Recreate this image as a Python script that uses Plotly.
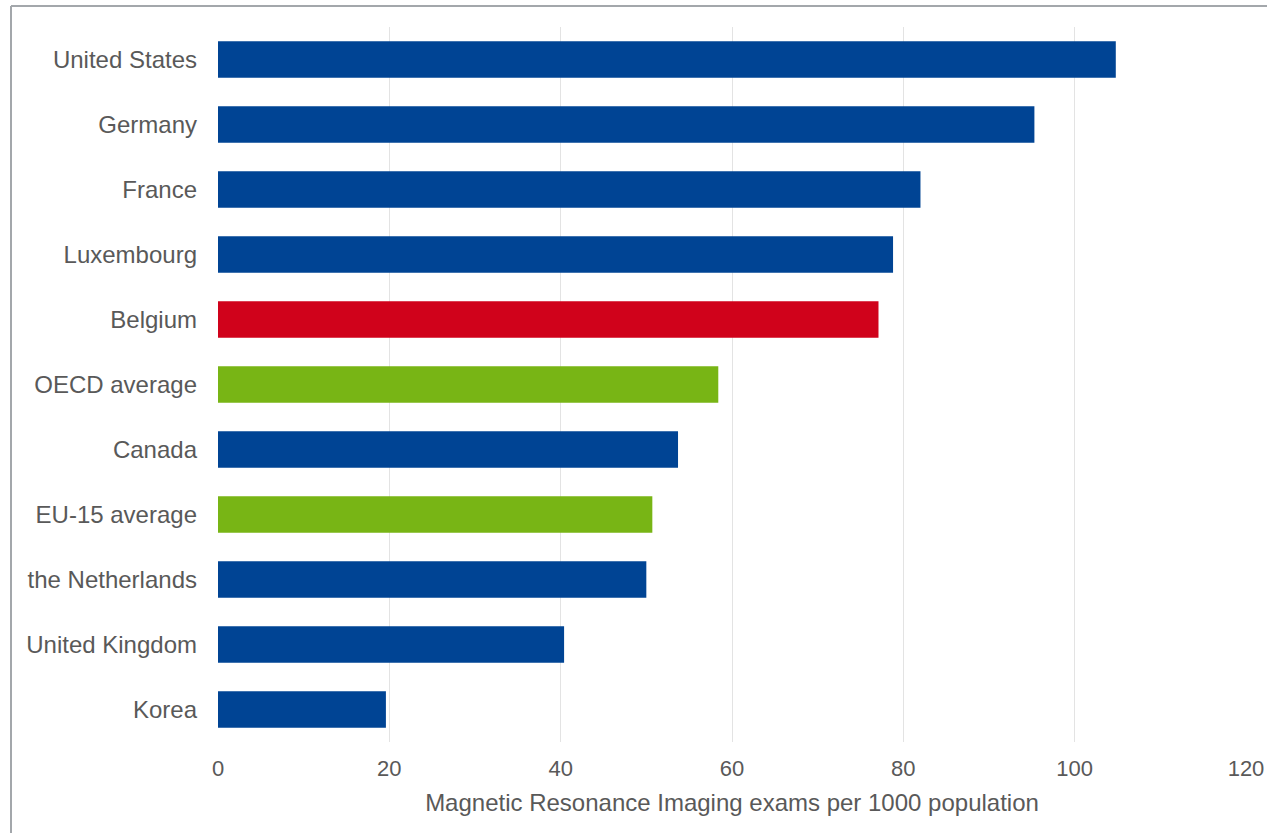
import plotly.graph_objects as go

countries = ["United States", "Germany", "France", "Luxembourg", "Belgium", "OECD average",
             "Canada", "EU-15 average", "the Netherlands", "United Kingdom", "Korea"]
values = [104.8, 95.3, 82.0, 78.8, 77.1, 58.4, 53.7, 50.7, 50.0, 40.4, 19.6]
groups = ["country", "country", "country", "country", "highlight", "average",
          "country", "average", "country", "country", "country"]
group_colors = {"country": "#004494", "highlight": "#d0021b", "average": "#78b515"}
x_ticks = [0, 20, 40, 60, 80, 100, 120]
x_title = "Magnetic Resonance Imaging exams per 1000 population"

fig = go.Figure(go.Bar(
    x=values, y=countries, orientation="h",
    marker=dict(color=[group_colors[g] for g in groups], line=dict(width=0)),
    hoverinfo="x+y",
))

W, H = 1267, 833
L, R, T, B = 218, 21, 27, 91
pw, ph = W - L - R, H - T - B

fig.update_layout(
    width=W, height=H,
    margin=dict(l=L, r=R, t=T, b=B, autoexpand=False),
    paper_bgcolor="white", plot_bgcolor="white",
    bargap=0.44,
    showlegend=False,
    font=dict(family="Liberation Sans, Arial, sans-serif", size=22, color="#595959"),
    xaxis=dict(
        range=[0, 120], tickvals=x_ticks, showgrid=True, gridcolor="#e3e3e3", gridwidth=1,
        zeroline=False, showline=False, ticks="", ticklabelstandoff=11, automargin=False,
        tickfont=dict(size=22, color="#595959"),
        title=dict(text=x_title, font=dict(size=24, color="#595959"), standoff=14),
    ),
    yaxis=dict(
        categoryorder="array", categoryarray=countries[::-1], automargin=False,
        showgrid=False, zeroline=False, showline=False, ticks="", ticklabelstandoff=20,
        tickfont=dict(size=24, color="#595959"),
    ),
    shapes=[
        dict(type="line", xref="paper", yref="paper",
             x0=(11 - L) / pw, x1=(11 - L) / pw, y0=1 + (T - 6) / ph, y1=-(H - T - ph + 10) / ph,
             line=dict(color="#a3a7ab", width=2)),
        dict(type="line", xref="paper", yref="paper",
             x0=(11 - L) / pw, x1=(W + 10 - L) / pw, y0=1 + (T - 6) / ph, y1=1 + (T - 6) / ph,
             line=dict(color="#a3a7ab", width=2)),
    ],
)

fig.write_html("out.html")
